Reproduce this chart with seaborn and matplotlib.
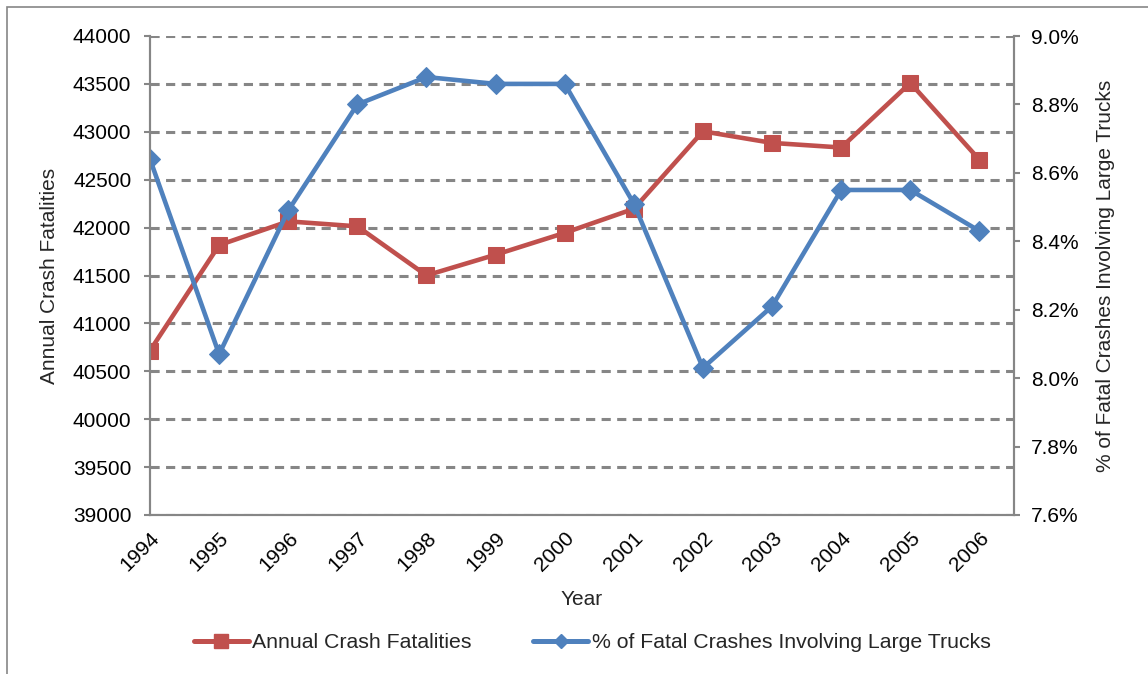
import numpy as np
import pandas as pd
import matplotlib
matplotlib.use('Agg')
import matplotlib.pyplot as plt
import seaborn as sns
from matplotlib.lines import Line2D
from matplotlib.patches import Rectangle
from matplotlib.ticker import FuncFormatter, MultipleLocator

years = [1994, 1995, 1996, 1997, 1998, 1999, 2000, 2001, 2002, 2003, 2004, 2005, 2006]
fatalities = [40716, 41817, 42065, 42013, 41501, 41717, 41945, 42196, 43005, 42884, 42836, 43510, 42708]
truck_pct = [8.64, 8.07, 8.49, 8.80, 8.88, 8.86, 8.86, 8.51, 8.03, 8.21, 8.55, 8.55, 8.43]

red = '#C0504D'
blue = '#4F81BD'
gray = '#868686'

sns.set_style('white')
plt.rcParams['font.family'] = ['Liberation Sans', 'DejaVu Sans']
plt.rcParams['lines.scale_dashes'] = False

df = pd.DataFrame({'Year': years, 'Fatalities': fatalities, 'Pct': truck_pct})

fig = plt.figure(figsize=(11.48, 6.74), dpi=100)
ax = fig.add_axes([150 / 1148, 1 - 515 / 674, (1014 - 150) / 1148, (515 - 36) / 674])
ax2 = ax.twinx()

# left axis: fatalities
sns.lineplot(data=df, x='Year', y='Fatalities', ax=ax, color=red, lw=3.3,
             marker='s', markersize=12, markeredgecolor=red)
# right axis: % trucks
sns.lineplot(data=df, x='Year', y='Pct', ax=ax2, color=blue, lw=3.3,
             marker='D', markersize=10, markeredgecolor=blue)

ax.set_xlim(1994, 2006.5)
ax.set_ylim(39000, 44000)
ax2.set_ylim(7.6, 9.0)

ax.yaxis.set_major_locator(MultipleLocator(500))
ax.set_xticks(years)
ax.set_xticklabels([str(y) for y in years], rotation=45, ha='right',
                   rotation_mode='anchor', fontsize=15)
ax2.yaxis.set_major_locator(MultipleLocator(0.2))
ax2.yaxis.set_major_formatter(FuncFormatter(lambda v, p: f'{v:.1f}%'))

ax.grid(axis='y', color=gray, lw=2.2, linestyle=(0, (6.6, 4.6)))
ax.grid(axis='x', visible=False)
ax2.grid(False)

for a in (ax, ax2):
    for s in a.spines.values():
        s.set_color(gray)
        s.set_linewidth(1.5)
    a.spines['top'].set_visible(False)
    a.tick_params(colors=gray, labelcolor='black', labelsize=15, length=4.5, width=1.5, direction='out')
ax.tick_params(axis='y', pad=9)
ax2.tick_params(axis='y', pad=8)
ax.tick_params(axis='x', pad=5)

ax.set_xlabel('Year', fontsize=15, labelpad=11)
ax.set_ylabel('Annual Crash Fatalities', fontsize=15, labelpad=10)
ax2.set_ylabel('% of Fatal Crashes Involving Large Trucks', fontsize=15, labelpad=12)

handles = [
    Line2D([], [], color=red, lw=3.6, marker='s', markersize=9.5),
    Line2D([], [], color=blue, lw=3.6, marker='D', markersize=7.5),
]
fig.legend(handles, ['Annual Crash Fatalities', '% of Fatal Crashes Involving Large Trucks'],
           loc='center', bbox_to_anchor=(592 / 1148, 1 - 643 / 674), ncol=2, frameon=False,
           fontsize=15.3, handlelength=2.6, handletextpad=0.15, columnspacing=2.9)

# outer chart border
fig.patches.append(Rectangle((7 / 1148, -0.1), 1.2, (674 - 7) / 674 + 0.1,
                             transform=fig.transFigure, fill=False, edgecolor=gray, lw=1.2))

fig.savefig('out.png', dpi=100)
